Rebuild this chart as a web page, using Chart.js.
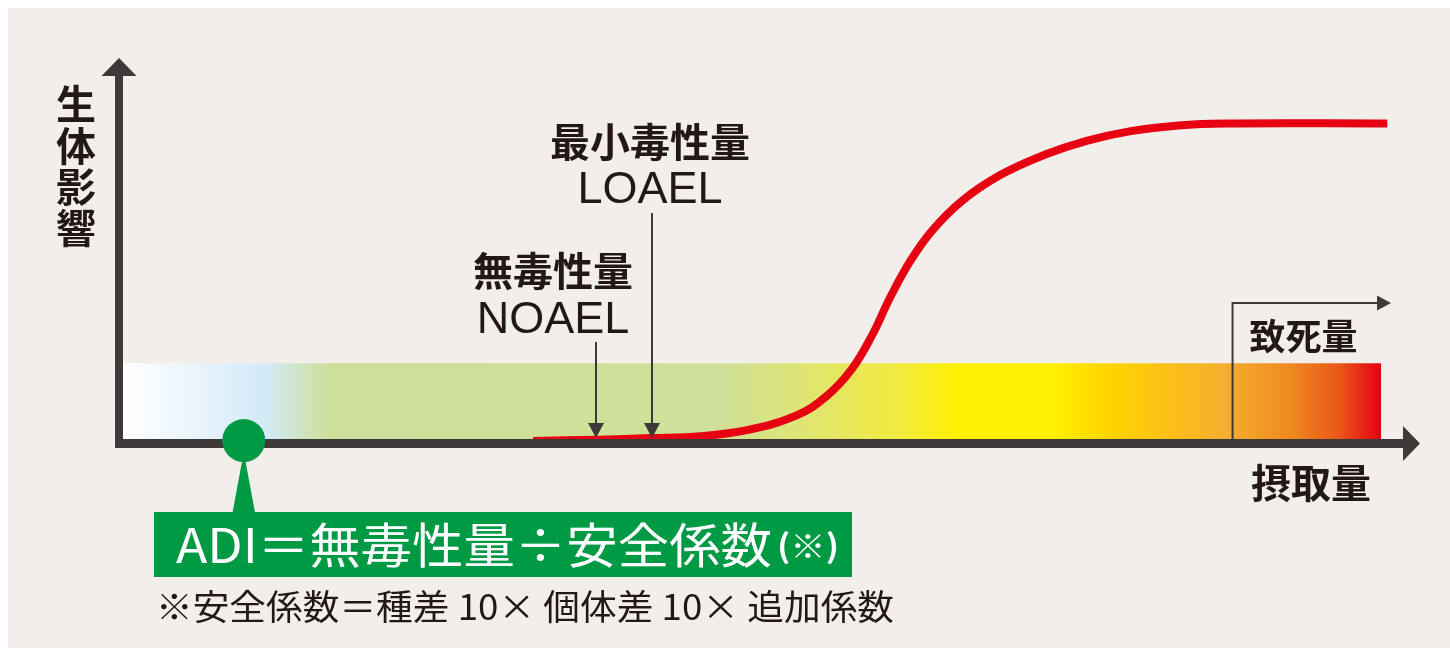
<!DOCTYPE html>
<html><head><meta charset="utf-8">
<script src="https://cdn.jsdelivr.net/npm/chart.js@4/dist/chart.umd.min.js"></script>
<style>html,body{margin:0;padding:0;background:#fff;}canvas{display:block;}</style>
</head><body>
<canvas id="c" width="1450" height="648"></canvas>
<script>
// ---- data (dose on x: 0..100 relative units, effect on y: 0..100 %) ----
const doseX   = [32.6, 37.9, 41.9, 45.9, 49.7, 53.5, 55.9, 57.9, 59.5, 61.0, 62.6, 64.3, 66.7, 69.8, 73.2, 76.6, 80.1, 83.9, 87.7, 100.5];
const effectY = [-0.6, -0.2, 0.3, 0.9, 2.9, 7.4, 13.5, 22.0, 32.5, 45.0, 56.5, 66.0, 75.5, 83.8, 90.0, 94.5, 97.6, 99.4, 100, 100];
const bandX = [0, 100];
const bandY = [24, 24];
const zoneDose = [0, 11.3, 16.5, 47.5, 55.4, 61.8, 66.5, 73.9, 78.5, 87.6, 92.8, 96.7, 100];
const markerNames = ['無毒性量', '最小毒性量'];
const markerCodes = ['NOAEL', 'LOAEL'];
const markerDose = [37.6, 42.05];
const lethalDose = [88.2];
const lethalLabel = ['致死量'];
const adiDose = [9.6];
const adiEffect = [-0.5];
const yTitle = '生体影響';
const xTitle = '摂取量';
const adiFormula = 'ADI＝無毒性量÷安全係数';
const adiNote = '(※)';
const footnote = '※安全係数＝種差 10× 個体差 10× 追加係数';

// ---- styles ----
const zoneColors = ['#ffffff', '#d3eaf8', '#cddf9a', '#cfe098', '#e2e66b', '#f2ea3e', '#fff000', '#fff000', '#ffd300', '#f6ae30', '#ef8a1e', '#e9571a', '#e60012'];
const INK = '#231815', AXIS = '#3e3a39', GREEN = '#009944', RED = '#e60012', BG = '#f2efea';
const JP = '"Noto Sans CJK JP", "Noto Sans", sans-serif';
const LAT = '"Liberation Sans", Arial, sans-serif';

function txt(ctx, s, x, y, font, color, align, base) {
  ctx.save(); ctx.font = font; ctx.fillStyle = color;
  ctx.textAlign = align || 'center'; ctx.textBaseline = base || 'middle';
  ctx.fillText(s, x, y); ctx.restore();
}
function fitTxt(ctx, s, x, y, font, color, width) {
  ctx.save(); ctx.font = font;
  const w = ctx.measureText(s).width || width;
  ctx.translate(x, y); ctx.scale(width / w, 1);
  ctx.fillStyle = color; ctx.textAlign = 'left'; ctx.textBaseline = 'middle';
  ctx.fillText(s, 0, 0); ctx.restore();
}
function tri(ctx, pts, color) {
  ctx.beginPath(); ctx.moveTo(pts[0][0], pts[0][1]);
  for (let i = 1; i < pts.length; i++) ctx.lineTo(pts[i][0], pts[i][1]);
  ctx.closePath(); ctx.fillStyle = color; ctx.fill();
}

const bgPlugin = {
  id: 'bg',
  beforeDraw(chart) {
    const ctx = chart.ctx;
    ctx.save(); ctx.fillStyle = '#ffffff'; ctx.fillRect(0, 0, chart.width, chart.height);
    ctx.fillStyle = BG; ctx.fillRect(8, 8, chart.width - 8, chart.height - 8); ctx.restore();
  }
};

const axesPlugin = {
  id: 'axesDeco',
  afterDatasetDraw(chart, args) {
    if (args.index !== 1) return;   // draw axes right after the curve, below the ADI dot
    const ctx = chart.ctx, a = chart.chartArea;
    const xs = chart.scales.x, ys = chart.scales.y;
    const ax = a.left - 4, ay = ys.getPixelForValue(0) + 4.5;
    ctx.save();
    ctx.fillStyle = AXIS;
    ctx.fillRect(ax - 4, 76, 8, ay + 4.5 - 76);
    tri(ctx, [[ax, 58], [ax - 17.5, 76], [ax + 17.5, 76]], AXIS);
    ctx.fillRect(ax - 4, ay - 4.5, 1403 - (ax - 4), 9);
    tri(ctx, [[1420, ay], [1403, ay - 17.5], [1403, ay + 17.5]], AXIS);

    const tops = [342, 213], nameY = [271, 141.5], codeY = [333, 203], offs = [-43, -2];
    ctx.strokeStyle = AXIS; ctx.lineWidth = 2;
    markerDose.forEach((d, i) => {
      const px = xs.getPixelForValue(d);
      ctx.beginPath(); ctx.moveTo(px, tops[i]); ctx.lineTo(px, 424); ctx.stroke();
      tri(ctx, [[px, 438], [px - 8, 423], [px + 8, 423]], AXIS);
      txt(ctx, markerNames[i], px + offs[i], nameY[i], 'bold 40px ' + JP, INK);
      txt(ctx, markerCodes[i], px + offs[i], codeY[i], '45px ' + LAT, INK, 'center', 'alphabetic');
    });

    const lx = xs.getPixelForValue(lethalDose[0]);
    ctx.beginPath(); ctx.moveTo(lx, ay - 4.5); ctx.lineTo(lx, 303); ctx.lineTo(1378, 303); ctx.stroke();
    tri(ctx, [[1391, 303], [1377, 295.5], [1377, 310.5]], AXIS);
    txt(ctx, lethalLabel[0], lx + 71, 336, 'bold 36px ' + JP, INK);

    for (let i = 0; i < yTitle.length; i++) {
      txt(ctx, yTitle[i], 76, 104 + i * 41.3, 'bold 40px ' + JP, INK);
    }
    txt(ctx, xTitle, 1311, 483, 'bold 40px ' + JP, INK);
    ctx.restore();
  },
  afterDraw(chart) {
    const ctx = chart.ctx, xs = chart.scales.x;
    const px = xs.getPixelForValue(adiDose[0]);
    ctx.save();
    tri(ctx, [[px, 452], [px - 11.5, 514], [px + 11.5, 514]], GREEN);
    ctx.fillStyle = GREEN; ctx.fillRect(154, 512, 698, 65);
    fitTxt(ctx, adiFormula, 176, 545, '48px ' + JP, '#ffffff', 596);
    fitTxt(ctx, adiNote, 777, 546, 'bold 32px ' + JP, '#ffffff', 62);
    fitTxt(ctx, footnote, 156, 607, '35px ' + JP, INK, 738);
    ctx.restore();
  }
};

const ctx = document.getElementById('c').getContext('2d');
new Chart(ctx, {
  type: 'line',
  data: {
    datasets: [
      {
        label: 'ADI', order: 0, clip: false, showLine: false,
        data: adiDose.map((x, i) => ({ x, y: adiEffect[i] })),
        pointRadius: 21.5, pointBackgroundColor: GREEN, pointBorderWidth: 0, borderColor: GREEN
      },
      {
        label: '生体影響', order: 1, clip: false,
        data: doseX.map((x, i) => ({ x, y: effectY[i] })),
        borderColor: RED, borderWidth: 8, pointRadius: 0, tension: 0.4, fill: false,
        borderCapStyle: 'butt'
      },
      {
        label: 'zone', order: 2, clip: false,
        data: bandX.map((x, i) => ({ x, y: bandY[i] })),
        borderWidth: 0, pointRadius: 0, fill: 'origin',
        backgroundColor: (c) => {
          const ch = c.chart; if (!ch.chartArea) return zoneColors[2];
          const xs = ch.scales.x;
          const g = ch.ctx.createLinearGradient(xs.getPixelForValue(0), 0, xs.getPixelForValue(100), 0);
          zoneDose.forEach((d, i) => g.addColorStop(d / 100, zoneColors[i]));
          return g;
        }
      }
    ]
  },
  options: {
    responsive: false, animation: false, events: [],
    layout: { padding: { left: 123, right: 69, top: 123.5, bottom: 209 } },
    scales: {
      x: { type: 'linear', min: 0, max: 100, display: false },
      y: { type: 'linear', min: 0, max: 100, display: false }
    },
    plugins: { legend: { display: false }, tooltip: { enabled: false } }
  },
  plugins: [bgPlugin, axesPlugin]
});
</script>
</body></html>
